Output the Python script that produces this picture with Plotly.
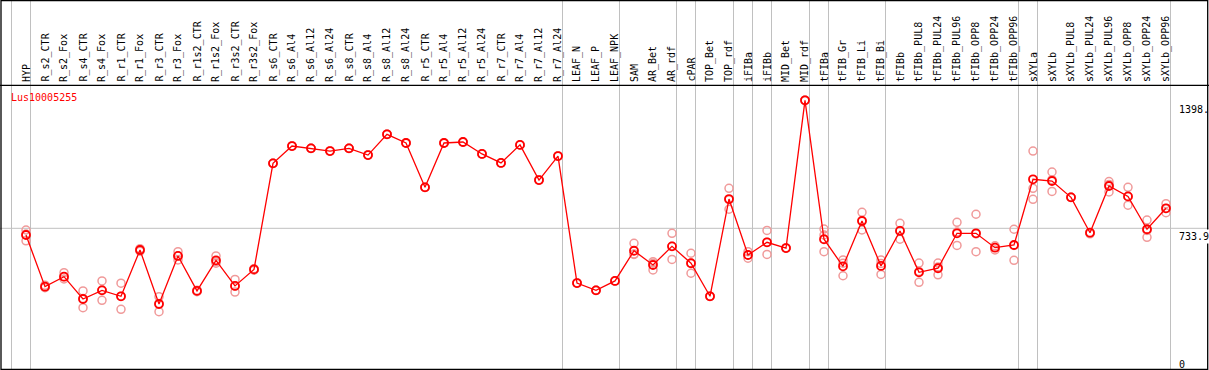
import plotly.graph_objects as go

categories = ["HYP", "R_s2_CTR", "R_s2_Fox", "R_s4_CTR", "R_s4_Fox", "R_r1_CTR", "R_r1_Fox",
              "R_r3_CTR", "R_r3_Fox", "R_r1s2_CTR", "R_r1s2_Fox", "R_r3s2_CTR", "R_r3s2_Fox",
              "R_s6_CTR", "R_s6_Al4", "R_s6_Al12", "R_s6_Al24", "R_s8_CTR", "R_s8_Al4", "R_s8_Al12",
              "R_s8_Al24", "R_r5_CTR", "R_r5_Al4", "R_r5_Al12", "R_r5_Al24", "R_r7_CTR", "R_r7_Al4",
              "R_r7_Al12", "R_r7_Al24", "LEAF_N", "LEAF_P", "LEAF_NPK", "SAM", "AR_Bet", "AR_rdf",
              "cPAR", "TOP_Bet", "TOP_rdf", "iFIBa", "iFIBb", "MID_Bet", "MID_rdf", "tFIBa",
              "tFIB_Gr", "tFIB_Li", "tFIB_Bi", "tFIBb", "tFIBb_PUL8", "tFIBb_PUL24", "tFIBb_PUL96",
              "tFIBb_OPP8", "tFIBb_OPP24", "tFIBb_OPP96", "sXYLa", "sXYLb", "sXYLb_PUL8",
              "sXYLb_PUL24", "sXYLb_PUL96", "sXYLb_OPP8", "sXYLb_OPP24", "sXYLb_OPP96"]

mean_values = [699, 430, 482, 366, 411, 380, 621, 340, 590, 408, 567, 434, 520,
               1072, 1162, 1150, 1136, 1150, 1115, 1223, 1178, 947, 1178, 1183, 1121, 1074, 1168, 985, 1110,
               449, 411, 460, 617, 543, 640, 552, 380, 886, 595, 661, 631, 1400,
               677, 536, 772, 538, 720, 505, 526, 708, 708, 633, 647, 989,
               980, 895, 711, 954, 900, 729, 838]

rep_a = [725, 438, 503, 408, 460, 448, 628, 378, 612, 412, 590, 468, 524,
         1072, 1162, 1150, 1136, 1150, 1115, 1223, 1178, 947, 1178, 1183, 1121, 1074, 1168, 985, 1110,
         449, 411, 460, 656, 560, 708, 604, 380, 942, 612, 723, 631, 1400,
         730, 569, 817, 569, 760, 553, 553, 765, 807, 643, 729, 1136,
         1027, 895, 711, 977, 947, 777, 862]
rep_b = [669, 425, 470, 321, 359, 312, 615, 300, 569, 404, 552, 402, 516,
         1072, 1162, 1150, 1136, 1150, 1115, 1223, 1178, 947, 1178, 1183, 1121, 1074, 1168, 985, 1110,
         449, 411, 460, 598, 517, 572, 500, 380, 833, 578, 598, 631, 1400,
         612, 487, 725, 494, 677, 453, 492, 645, 612, 621, 567, 885,
         926, 895, 705, 923, 854, 687, 815]
rep_c = [704, 430, 482, 369, 414, 380, 621, 342, 590, 408, 560, 434, 520,
         1072, 1162, 1150, 1136, 1150, 1115, 1223, 1178, 947, 1178, 1183, 1121, 1074, 1168, 985, 1110,
         449, 411, 460, 600, 552, 640, 552, 380, 883, 595, 661, 631, 1400,
         699, 552, 774, 551, 723, 509, 533, 714, 705, 635, 645, 942,
         987, 895, 711, 962, 899, 723, 837]

group_ends = ["R_r7_Al24", "LEAF_NPK", "AR_rdf", "cPAR", "TOP_rdf", "iFIBa", "iFIBb",
              "MID_rdf", "tFIBa", "tFIB_Bi", "tFIBb_OPP96", "sXYLa", "sXYLb_OPP96"]
title_text = "Lus10005255"
y_labels = ["1398.", "733.9", "0"]
y_label_values = [1398, 733.9, 0]
grid_value = 733.9

W, H = 1209, 370
PX_X0, PX_DX = 26.0, 19.0          # pixel of first category, pixel spacing
Y_PER_PX = 733.9 / (369.3 - 228.3)
y_min = -(H - 369.3) * Y_PER_PX
y_max = y_min + H * Y_PER_PX
x_lo = (0 - PX_X0) / PX_DX
x_hi = (W - PX_X0) / PX_DX

RED = "#ff0000"
PINK = "#f09a9a"
GRID = "#c0c0c0"
FONT = "DejaVu Sans Mono"

fig = go.Figure()

for reps in (rep_a, rep_b, rep_c):
    fig.add_trace(go.Scatter(
        x=categories, y=reps, mode="markers",
        marker=dict(symbol="circle-open", size=8, color=PINK, line=dict(width=1.5, color=PINK)),
        hoverinfo="skip", showlegend=False))

fig.add_trace(go.Scatter(
    x=categories, y=mean_values, mode="lines+markers",
    line=dict(color=RED, width=1.3),
    marker=dict(symbol="circle-open", size=8, color=RED, line=dict(width=1.8, color=RED)),
    showlegend=False))

shapes = []
idx = {c: i for i, c in enumerate(categories)}
offset = 4.5 / PX_DX
sep_positions = [-1 + offset, 0 + offset] + [idx[c] + offset for c in group_ends]
for xp in sep_positions:
    shapes.append(dict(type="line", xref="x", yref="paper", x0=xp, x1=xp, y0=0, y1=1,
                       line=dict(color=GRID, width=1), layer="below"))

# horizontal grid line
shapes.append(dict(type="line", xref="paper", yref="y", x0=0, x1=1, y0=grid_value, y1=grid_value,
                   line=dict(color=GRID, width=1), layer="below"))

# header separator & frame
hdr_y = 1 - 85.3 / H
shapes.append(dict(type="line", xref="paper", yref="paper", x0=0, x1=1, y0=hdr_y, y1=hdr_y,
                   line=dict(color="black", width=1.3)))
shapes.append(dict(type="rect", xref="paper", yref="paper",
                   x0=1.0 / W, x1=1 - 1.3 / W, y0=0.7 / H, y1=1 - 0.5 / H,
                   line=dict(color="black", width=1.3), fillcolor="rgba(0,0,0,0)"))

annotations = []
for c in categories:
    annotations.append(dict(x=c, y=1 - 84.0 / H, xref="x", yref="paper", text=c, showarrow=False,
                            textangle=-90, xanchor="center", yanchor="bottom",
                            font=dict(family=FONT, size=10, color="black")))

annotations.append(dict(x=9.0 / W, y=1 - 97.0 / H, xref="paper", yref="paper", text=title_text,
                        showarrow=False, xanchor="left", yanchor="middle",
                        font=dict(family=FONT, size=10, color=RED)))

for lab, val in zip(y_labels, y_label_values):
    annotations.append(dict(x=1177.0 / W, y=val, xref="paper", yref="y", text=lab, showarrow=False,
                            xanchor="left", yanchor="top", yshift=-1 if val else 12,
                            font=dict(family=FONT, size=10, color="black"),
                            bgcolor="white" if val == grid_value else None))

fig.update_layout(
    width=W, height=H,
    margin=dict(l=0, r=0, t=0, b=0),
    paper_bgcolor="white", plot_bgcolor="white",
    xaxis=dict(type="category", categoryorder="array", categoryarray=categories,
               range=[x_lo, x_hi], showgrid=False, showticklabels=False, zeroline=False,
               showline=False, ticks=""),
    yaxis=dict(range=[y_min, y_max], showgrid=False, showticklabels=False, zeroline=False,
               showline=False, ticks=""),
    shapes=shapes,
    annotations=annotations,
)

fig.write_html("out.html",
               config={"displayModeBar": False},
               post_script="document.body.style.margin='0';document.body.style.padding='0';"
                           "document.body.style.overflow='hidden';")
